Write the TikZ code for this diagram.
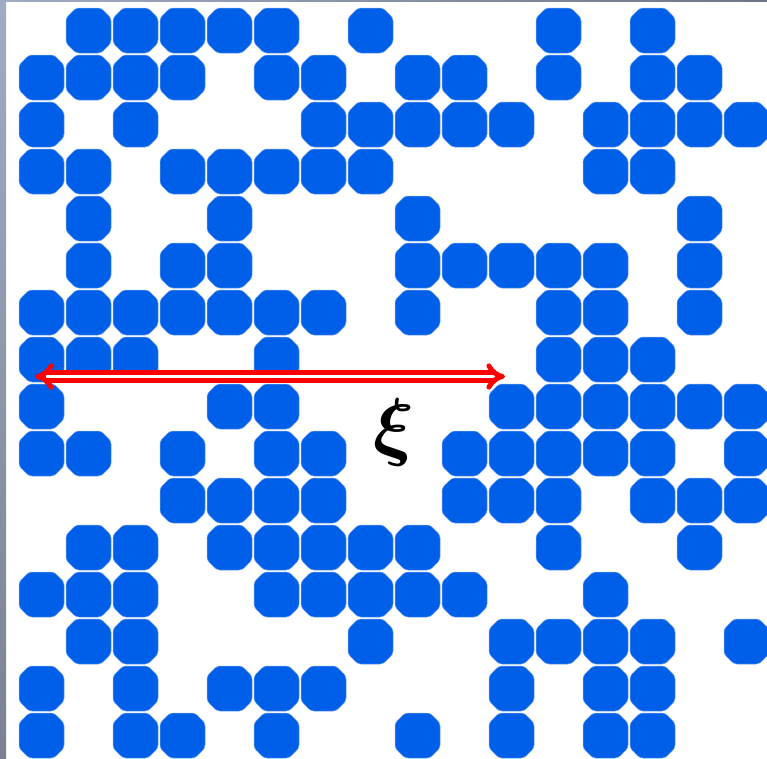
\documentclass[tikz,border=0pt]{standalone}
\usepackage{amsmath}
\usetikzlibrary{arrows.meta}
\definecolor{cellblue}{RGB}{0,95,232}
\definecolor{celledge}{RGB}{120,165,240}
\definecolor{striptop}{RGB}{160,171,196}
\definecolor{stripbot}{RGB}{122,130,146}
\definecolor{linetop}{RGB}{110,119,134}
\definecolor{arrowred}{RGB}{255,0,0}
\begin{document}
\begin{tikzpicture}[x=1pt,y=-1pt,
  cell/.style={fill=cellblue,draw=celledge,line width=0.5pt,rounded corners=3pt},
  sizearrow/.style={draw=arrowred,line width=5pt,double=white,double distance=3pt,{Implies}-{Implies}},
  label/.style={inner sep=0pt,scale=7.6}]
\useasboundingbox (0,0) rectangle (767,758);
\fill[white] (0,0) rectangle (767,758);
% cells
\foreach \r/\cols in {
  0/{1,2,3,4,5,7,11,13},
  1/{0,1,2,3,5,6,8,9,11,13,14},
  2/{0,2,6,7,8,9,10,12,13,14,15},
  3/{0,1,3,4,5,6,7,12,13},
  4/{1,4,8,14},
  5/{1,3,4,8,9,10,11,12,14},
  6/{0,1,2,3,4,5,6,8,11,12,14},
  7/{0,1,2,5,11,12,13},
  8/{0,4,5,10,11,12,13,14,15},
  9/{0,1,3,5,6,9,10,11,12,13,15},
  10/{3,4,5,6,9,10,11,13,14,15},
  11/{1,2,4,5,6,7,8,11,14},
  12/{0,1,2,5,6,7,8,9,12},
  13/{1,2,7,10,11,12,13,15},
  14/{0,2,4,5,6,10,12,13},
  15/{0,2,3,5,8,10,12,13}}{
  \foreach \c in \cols {
    \path[cell] ({41.5+47*\c},{30.5+47*\r-22.5}) -- ++(12.5,0) -- ++(10,10) -- ++(0,25)
      -- ++(-10,10) -- ++(-25,0) -- ++(-10,-10) -- ++(0,-25) -- ++(10,-10) -- cycle;
  }
}
% frame strips
\shade[top color=striptop,bottom color=stripbot] (0,0) rectangle (6,758);
\shade[left color=striptop,right color=linetop] (0,0) rectangle (767,1.5);
% arrow
\coordinate (L) at (35,376.5);
\coordinate (R) at (505,376.5);
\draw[sizearrow] (L) -- (R);
\node[label] (xi) at (394,432) {$\boldsymbol{\xi}$};
\end{tikzpicture}
\end{document}
